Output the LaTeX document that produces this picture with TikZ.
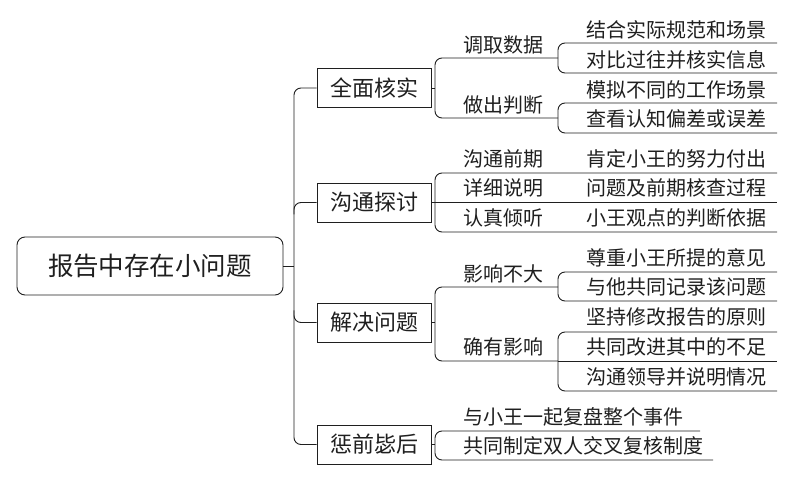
\documentclass[tikz,border=0pt]{standalone}
\usepackage{fontspec}
\newfontfamily\cjk{Noto Sans CJK SC}
\begin{document}
\begin{tikzpicture}[x=1pt,y=-1pt,
  ln/.style={draw=black!88, line width=0.9pt},
  rc/.style={ln, rounded corners=7pt},
  rootbox/.style={draw=black!88, line width=0.9pt, rounded corners=8pt, minimum width=266pt, minimum height=58pt, inner sep=0pt, text=black!88, font=\cjk\fontsize{25.5}{25.5}\selectfont},
  lonebox/.style={draw=black!88, line width=0.9pt, minimum width=114pt, minimum height=39pt, inner sep=0pt, text=black!88, font=\cjk\fontsize{22}{22}\selectfont},
  lbl/.style={anchor=west, inner sep=0pt, text=black!88, font=\cjk\fontsize{20}{20}\selectfont}]
\useasboundingbox (0,0) rectangle (793,481);
\fill[white] (0,0) rectangle (793,481);

% main nodes
\node[rootbox] (root) at (150,266) {报告中存在小问题};
\node[lonebox] (a) at (374,88) {全面核实};
\node[lonebox] (b) at (374,202.5) {沟通探讨};
\node[lonebox] (c) at (374,322.5) {解决问题};
\node[lonebox] (d) at (374,444.5) {惩前毖后};

% guide coordinates
\coordinate (t) at (294,266);
\coordinate (bx) at (435,0);
\coordinate (cx) at (558,0);

% trunk
\draw[ln] (root.east) -- (t);
\draw[rc] (a.west) -- (a.west -| t) -- (d.west -| t) -- (d.west);
\draw[rc] (b.west) -- (b.west -| t) -- ++(0,12);
\draw[rc] (c.west) -- (c.west -| t) -- ++(0,-12);

% branch a
\coordinate (a1) at (558,58);
\coordinate (a2) at (558,118);
\coordinate (a11) at (777,43);
\coordinate (a12) at (777,73);
\coordinate (a21) at (777,103);
\coordinate (a22) at (777,133);
\draw[ln] (a.east) -- (a.east -| bx);
\draw[rc] (a1) -- (a1 -| bx) -- (a2 -| bx) -- (a2);
\draw[rc] (a11) -- (a11 -| cx) -- (a12 -| cx) -- (a12);
\draw[rc] (a21) -- (a21 -| cx) -- (a22 -| cx) -- (a22);
\node[lbl] (ta1) at (463,45) {调取数据};
\node[lbl] (ta2) at (463,105) {做出判断};
\node[lbl] (ta11) at (586,29.5) {结合实际规范和场景};
\node[lbl] (ta12) at (586,60) {对比过往并核实信息};
\node[lbl] (ta21) at (586,89.5) {模拟不同的工作场景};
\node[lbl] (ta22) at (586,119) {查看认知偏差或误差};

% branch b
\coordinate (b1) at (777,173);
\coordinate (b2) at (777,202.5);
\coordinate (b3) at (777,232);
\draw[ln] (b.east) -- (b2);
\draw[rc] (b1) -- (b1 -| bx) -- (b3 -| bx) -- (b3);
\node[lbl] (tb1) at (463,158.5) {沟通前期};
\node[lbl] (tb2) at (463,188) {详细说明};
\node[lbl] (tb3) at (463,217.5) {认真倾听};
\node[lbl] (tb11) at (586,158.5) {肯定小王的努力付出};
\node[lbl] (tb21) at (586,188) {问题及前期核查过程};
\node[lbl] (tb31) at (586,217.5) {小王观点的判断依据};

% branch c
\coordinate (c1) at (558,287);
\coordinate (c2) at (558,361);
\coordinate (c11) at (777,272);
\coordinate (c12) at (777,301);
\coordinate (c21) at (777,332);
\coordinate (c22) at (777,361);
\coordinate (c23) at (777,391);
\draw[ln] (c.east) -- (c.east -| bx);
\draw[rc] (c1) -- (c1 -| bx) -- (c2 -| bx) -- (c2);
\draw[rc] (c11) -- (c11 -| cx) -- (c12 -| cx) -- (c12);
\draw[rc] (c21) -- (c21 -| cx) -- (c23 -| cx) -- (c23);
\draw[ln] (c2) -- (c22);
\node[lbl] (tc1) at (463,273.5) {影响不大};
\node[lbl] (tc2) at (463,347) {确有影响};
\node[lbl] (tc11) at (586,257.5) {尊重小王所提的意见};
\node[lbl] (tc12) at (586,287) {与他共同记录该问题};
\node[lbl] (tc21) at (586,317) {坚持修改报告的原则};
\node[lbl] (tc22) at (586,347) {共同改进其中的不足};
\node[lbl] (tc23) at (586,377) {沟通领导并说明情况};

% branch d
\coordinate (d1) at (700,431);
\coordinate (d2) at (713,460);
\draw[ln] (d.east) -- (d.east -| bx);
\draw[rc] (d1) -- (d1 -| bx) -- (d2 -| bx) -- (d2);
\node[lbl] (td1) at (463,416.5) {与小王一起复盘整个事件};
\node[lbl] (td2) at (463,446) {共同制定双人交叉复核制度};
\end{tikzpicture}
\end{document}
